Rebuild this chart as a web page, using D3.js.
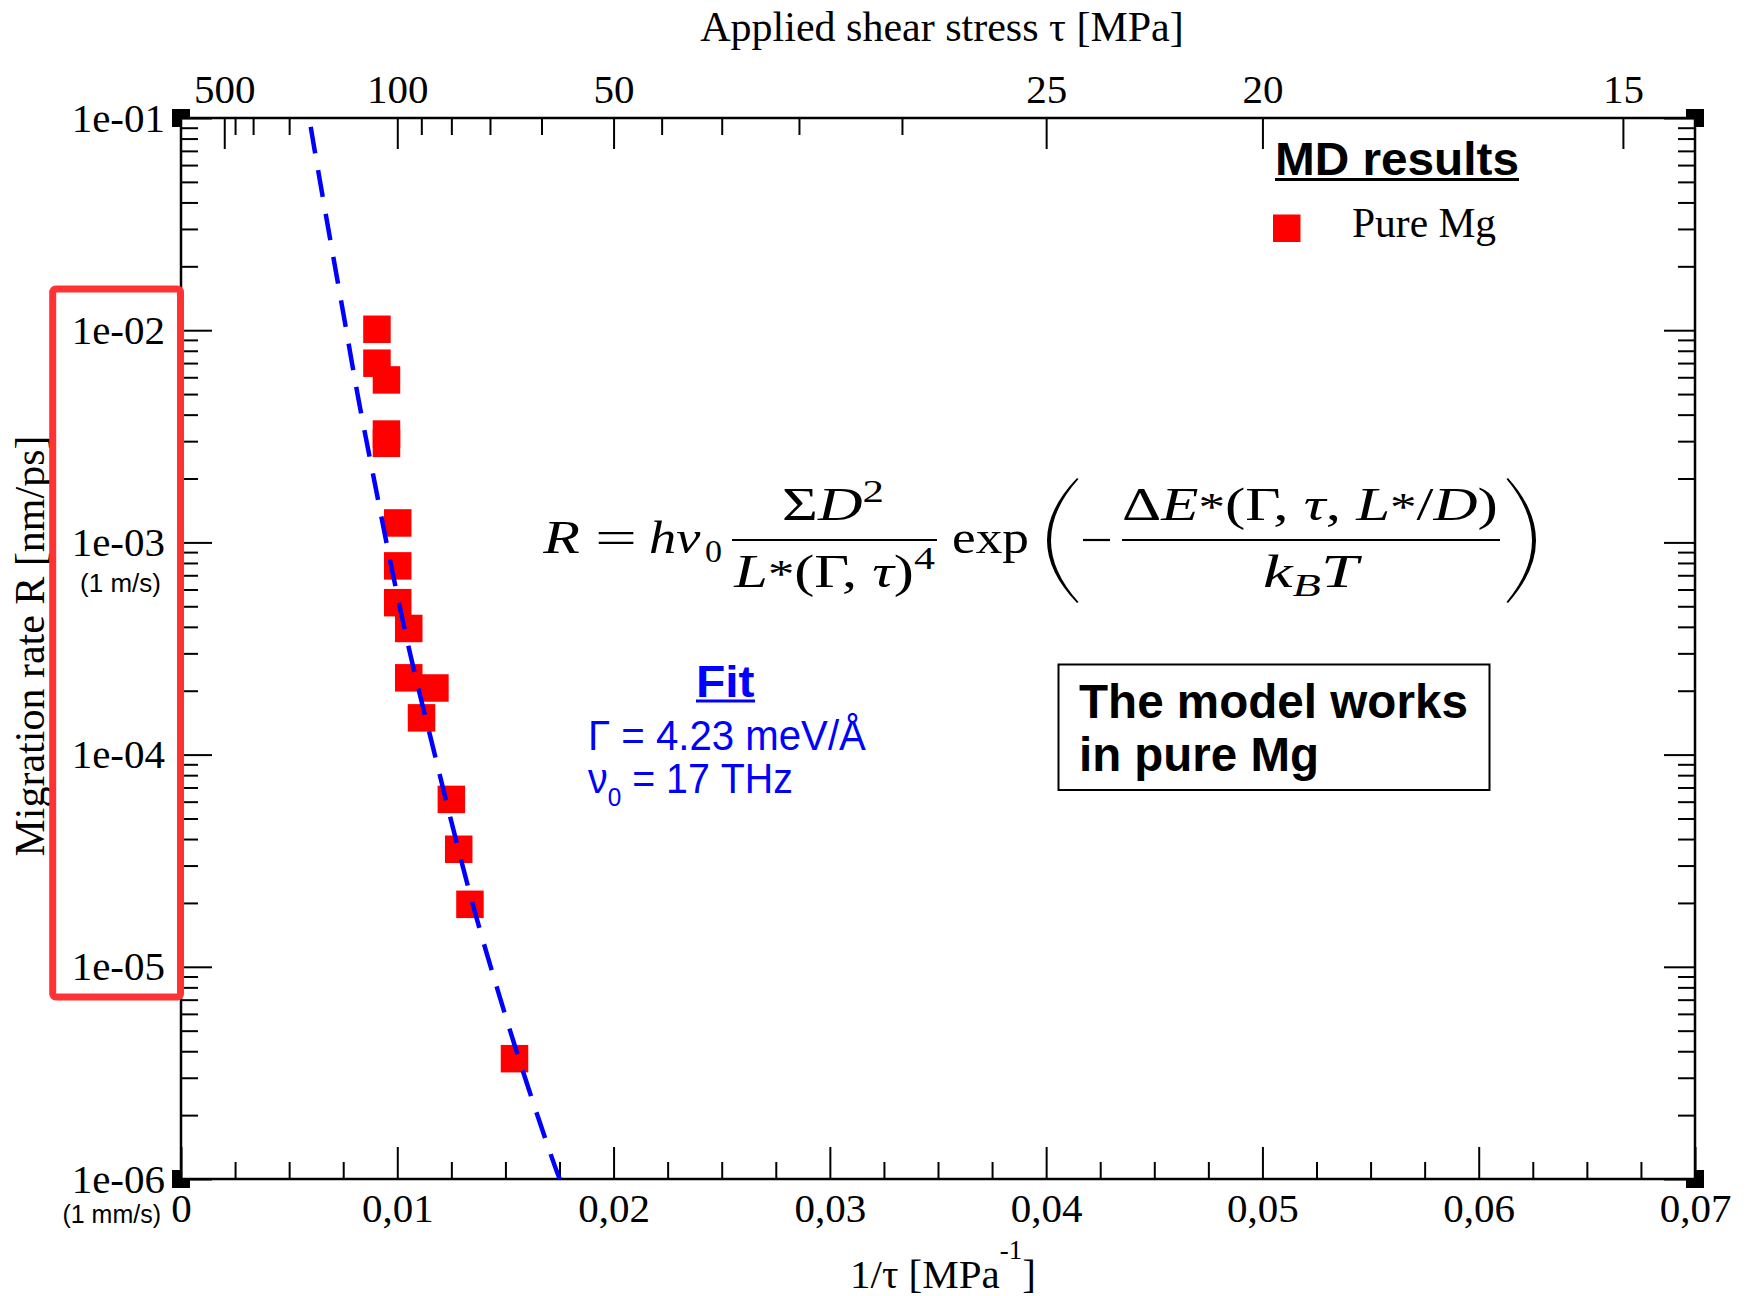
<!DOCTYPE html>
<html>
<head>
<meta charset="utf-8">
<script src="https://cdn.jsdelivr.net/npm/d3@7"></script>
<style>
  html, body { margin: 0; padding: 0; background: #fff; }
  svg { display: block; }
</style>
</head>
<body>
<svg id="chart" width="1760" height="1296"></svg>
<script>
// ---- MD results: inverse applied shear stress 1/tau [MPa^-1] and migration rate R [nm/ps]
const invTau = [0.00906, 0.00906, 0.00950, 0.00950, 0.00950, 0.01002, 0.01002, 0.01002,
                0.01053, 0.01053, 0.01174, 0.01112, 0.01250, 0.01284, 0.01336, 0.01542];
const rate   = [1.01e-2, 6.99e-3, 5.83e-3, 3.24e-3, 2.93e-3, 1.235e-3, 7.75e-4, 5.20e-4,
                3.93e-4, 2.30e-4, 2.06e-4, 1.49e-4, 6.15e-5, 3.58e-5, 1.97e-5, 3.69e-6];

// ---- fitted model curve (Gamma = 4.23 meV/A, nu0 = 17 THz)
const fitInvTau = [0.005932, 0.006096, 0.006790, 0.007506, 0.008200, 0.008970, 0.009763, 0.010627,
                   0.011605, 0.012590, 0.013616, 0.014772, 0.015983, 0.017285, 0.017509];
const fitRate   = [1.0e-1, 7.90e-2, 3.09e-2, 1.20e-2, 4.76e-3, 1.88e-3, 7.37e-4, 2.89e-4,
                   1.13e-4, 4.45e-5, 1.77e-5, 7.02e-6, 2.84e-6, 1.15e-6, 1.0e-6];

// ---- axis ticks
const bottomTicks  = [0, 0.01, 0.02, 0.03, 0.04, 0.05, 0.06, 0.07];
const bottomLabels = ["0", "0,01", "0,02", "0,03", "0,04", "0,05", "0,06", "0,07"];
const tauMajor = [500, 100, 50, 25, 20, 15];
const tauMinor = [400, 300, 200, 90, 80, 70, 60, 45, 40, 35, 30];
const rateTicks  = [1e-6, 1e-5, 1e-4, 1e-3, 1e-2, 1e-1];
const rateLabels = ["1e-06", "1e-05", "1e-04", "1e-03", "1e-02", "1e-01"];

const serif = "'Liberation Serif', 'Times New Roman', serif";
const sans  = "'Liberation Sans', Arial, sans-serif";

const svg = d3.select("#chart");
const L = 181, R = 1695, T = 118, B = 1179;

const x = d3.scaleLinear().domain([0, 0.07]).range([L, R]);
const y = d3.scaleLog().domain([1e-6, 1e-1]).range([B, T]);

// minor tick positions
const rateMinor = [];
rateTicks.slice(0, -1).forEach(d => { for (let k = 2; k <= 9; k++) rateMinor.push(k * d); });
const bottomMinor = d3.range(1, 28).map(i => i * 0.0025)
  .filter(v => Math.abs(v / 0.01 - Math.round(v / 0.01)) > 1e-6);

// corner markers (inner quadrant later covered by the plot background)
const corners = [[0, 1e-1], [0.07, 1e-1], [0, 1e-6], [0.07, 1e-6]];
svg.append("g").selectAll("rect").data(corners).join("rect")
  .attr("x", d => x(d[0]) - 9).attr("y", d => y(d[1]) - 9)
  .attr("width", 18).attr("height", 18).attr("fill", "#000");

svg.append("rect").attr("x", L).attr("y", T).attr("width", R - L).attr("height", B - T).attr("fill", "#fff");

// ---- axes
const axes = svg.append("g");
function addAxis(gen, transform) {
  const g = axes.append("g").attr("transform", transform).call(gen);
  g.select(".domain").remove();
  g.selectAll(".tick line").attr("stroke", "#000").attr("stroke-width", 2);
  g.selectAll(".tick text").attr("font-family", serif).attr("font-size", 41).attr("fill", "#000");
  return g;
}
addAxis(d3.axisBottom(x).tickValues(bottomTicks).tickFormat((d, i) => bottomLabels[i])
  .tickSizeInner(-32).tickSizeOuter(0).tickPadding(14), `translate(0,${B})`);
addAxis(d3.axisBottom(x).tickValues(bottomMinor).tickFormat("")
  .tickSizeInner(-17).tickSizeOuter(0), `translate(0,${B})`);
addAxis(d3.axisTop(x).tickValues(tauMajor.map(t => 1 / t)).tickFormat((d, i) => tauMajor[i])
  .tickSizeInner(-31).tickSizeOuter(0).tickPadding(15), `translate(0,${T})`);
addAxis(d3.axisTop(x).tickValues(tauMinor.map(t => 1 / t)).tickFormat("")
  .tickSizeInner(-17).tickSizeOuter(0), `translate(0,${T})`);
addAxis(d3.axisLeft(y).tickValues(rateTicks).tickFormat((d, i) => rateLabels[i])
  .tickSizeInner(-31).tickSizeOuter(0).tickPadding(16), `translate(${L},0)`);
addAxis(d3.axisLeft(y).tickValues(rateMinor).tickFormat("")
  .tickSizeInner(-17).tickSizeOuter(0), `translate(${L},0)`);
addAxis(d3.axisRight(y).tickValues(rateTicks).tickFormat("")
  .tickSizeInner(-31).tickSizeOuter(0), `translate(${R},0)`);
addAxis(d3.axisRight(y).tickValues(rateMinor).tickFormat("")
  .tickSizeInner(-17).tickSizeOuter(0), `translate(${R},0)`);

svg.append("rect").attr("x", L).attr("y", T).attr("width", R - L).attr("height", B - T)
  .attr("fill", "none").attr("stroke", "#000").attr("stroke-width", 2.5);

// ---- MD points
const pts = invTau.map((v, i) => ({ x: v, r: rate[i] }));
svg.append("g").selectAll("rect").data(pts).join("rect")
  .attr("x", d => x(d.x) - 13.75).attr("y", d => y(d.r) - 13.75)
  .attr("width", 27.5).attr("height", 27.5).attr("fill", "#ff0000");

// ---- model fit (dashed)
const fitLine = d3.line().x(d => x(d[0])).y(d => y(d[1])).curve(d3.curveCatmullRom);
svg.append("path").datum(fitInvTau.map((v, i) => [v, fitRate[i]]))
  .attr("d", fitLine).attr("fill", "none").attr("stroke", "#0000ff")
  .attr("stroke-width", 4.5).attr("stroke-dasharray", "27,17").attr("stroke-dashoffset", 35);

// ---- axis titles
svg.append("text").attr("x", 942).attr("y", 41).attr("text-anchor", "middle")
  .attr("font-family", serif).attr("font-size", 42).text("Applied shear stress τ [MPa]");

const bt = svg.append("text").attr("x", 850).attr("y", 1288)
  .attr("font-family", serif).attr("font-size", 41).style("white-space", "pre");
bt.append("tspan").text("1/τ [MPa");
bt.append("tspan").attr("font-size", 27).attr("dy", -29).text("-1");
bt.append("tspan").attr("dy", 29).text("]");

svg.append("text").attr("transform", "translate(44,646) rotate(-90)").attr("text-anchor", "middle")
  .attr("font-family", serif).attr("font-size", 42).text("Migration rate R [nm/ps]");

// ---- highlighted rate labels
svg.append("rect").attr("x", 52.7).attr("y", 289).attr("width", 127.8).attr("height", 708)
  .attr("rx", 3).attr("fill", "none").attr("stroke", "#ff3333").attr("stroke-width", 7);
svg.append("text").attr("x", 161).attr("y", 591.5).attr("text-anchor", "end")
  .attr("font-family", sans).attr("font-size", 26).text("(1 m/s)");
svg.append("text").attr("x", 161).attr("y", 1223).attr("text-anchor", "end")
  .attr("font-family", sans).attr("font-size", 25).text("(1 mm/s)");

// ---- helpers for rich text
function richText(g, baseline, family, size, parts) {
  const t = g.append("text").attr("y", baseline).attr("font-family", family)
    .attr("font-size", size).style("white-space", "pre");
  parts.forEach(p => {
    const s = t.append("tspan").text(p.t);
    if (p.it) s.attr("font-style", "italic");
    if (p.fs) s.attr("font-size", p.fs);
    if (p.dy) s.attr("dy", p.dy);
  });
  return t;
}
function fitTo(t, x1, x2) {
  const bb = t.node().getBBox();
  const sx = (x2 - x1) / bb.width;
  t.attr("transform", `translate(${x1 - bb.x * sx},0) scale(${sx},1)`);
  return t;
}

// ---- legend
const leg = svg.append("g");
fitTo(leg.append("text").attr("y", 175).attr("font-family", sans).attr("font-weight", "bold")
  .attr("font-size", 46).text("MD results"), 1275, 1519);
leg.append("line").attr("x1", 1275).attr("x2", 1519).attr("y1", 179.5).attr("y2", 179.5)
  .attr("stroke", "#000").attr("stroke-width", 3);
leg.append("rect").attr("x", 1273).attr("y", 214.5).attr("width", 27.5).attr("height", 27.5).attr("fill", "#ff0000");
leg.append("text").attr("x", 1352).attr("y", 237).attr("font-family", serif).attr("font-size", 41.5).text("Pure Mg");

// ---- model equation
const eq = svg.append("g").attr("fill", "#000");
fitTo(richText(eq, 553, serif, 46, [{ t: "R", it: true }]), 542, 580);
fitTo(richText(eq, 553, serif, 46, [{ t: "=" }]), 595, 637);
fitTo(richText(eq, 553, serif, 46, [{ t: "hν", it: true }]), 649, 701);
fitTo(richText(eq, 562, serif, 32, [{ t: "0" }]), 705, 722);
eq.append("line").attr("x1", 732).attr("x2", 937).attr("y1", 540).attr("y2", 540).attr("stroke", "#000").attr("stroke-width", 2);
fitTo(richText(eq, 520, serif, 46, [{ t: "Σ" }, { t: "D", it: true }, { t: "2", fs: 32, dy: -18 }]), 782, 884);
fitTo(richText(eq, 587, serif, 46, [{ t: "L", it: true }, { t: "*", fs: 40 }, { t: "(Γ, " },
  { t: "τ", it: true }, { t: ")" }, { t: "4", fs: 32, dy: -18 }]), 733, 935);
fitTo(richText(eq, 553, serif, 46, [{ t: "exp" }]), 952, 1029);
// minus sign
eq.append("line").attr("x1", 1083).attr("x2", 1110).attr("y1", 540).attr("y2", 540).attr("stroke", "#000").attr("stroke-width", 2.2);
eq.append("line").attr("x1", 1122).attr("x2", 1500).attr("y1", 540).attr("y2", 540).attr("stroke", "#000").attr("stroke-width", 2);
fitTo(richText(eq, 520, serif, 46, [{ t: "Δ" }, { t: "E", it: true }, { t: "*", fs: 40 }, { t: "(Γ, " },
  { t: "τ", it: true }, { t: ", " }, { t: "L", it: true }, { t: "*", fs: 40 }, { t: "/" },
  { t: "D", it: true }, { t: ")" }]), 1122, 1498);
fitTo(richText(eq, 587, serif, 46, [{ t: "k", it: true }, { t: "B", it: true, fs: 32, dy: 9 },
  { t: "T", it: true, fs: 46, dy: -9 }]), 1263, 1363);

// large delimiters around the exponent
function bigParen(xEnd, xBulge, yTop, yBot, thick, dir) {
  const ym = (yTop + yBot) / 2;
  const xi = xEnd + dir * 1.5;
  return `M${xEnd},${yTop} Q${2 * xBulge - xEnd},${ym} ${xEnd},${yBot}` +
         ` L${xi},${yBot - 1} Q${2 * (xBulge + dir * thick) - xi},${ym} ${xi},${yTop + 1} Z`;
}
eq.append("path").attr("d", bigParen(1077, 1047, 478, 603, 4, 1));
eq.append("path").attr("d", bigParen(1508, 1536, 478, 603, 4, -1));

// ---- fit parameters
const fitG = svg.append("g").attr("fill", "#0000ff");
fitTo(fitG.append("text").attr("y", 697).attr("font-family", sans).attr("font-weight", "bold")
  .attr("font-size", 44).text("Fit"), 696, 755);
fitG.append("line").attr("x1", 696).attr("x2", 755).attr("y1", 701).attr("y2", 701)
  .attr("stroke", "#0000ff").attr("stroke-width", 3);
fitTo(richText(fitG, 750, sans, 42, [{ t: "Γ = 4.23 meV/Å" }]), 588, 866);
fitTo(richText(fitG, 793, sans, 42, [{ t: "ν" }, { t: "0", fs: 26, dy: 13 },
  { t: " = 17 THz", fs: 42, dy: -13 }]), 588, 793);

// ---- conclusion box
const box = svg.append("g");
box.append("rect").attr("x", 1058.5).attr("y", 664.5).attr("width", 431).attr("height", 125.5)
  .attr("fill", "none").attr("stroke", "#000").attr("stroke-width", 2);
fitTo(box.append("text").attr("y", 718.5).attr("font-family", sans).attr("font-weight", "bold")
  .attr("font-size", 47.5).text("The model works"), 1079, 1468);
fitTo(box.append("text").attr("y", 771).attr("font-family", sans).attr("font-weight", "bold")
  .attr("font-size", 47.5).text("in pure Mg"), 1079, 1319);
</script>
</body>
</html>
